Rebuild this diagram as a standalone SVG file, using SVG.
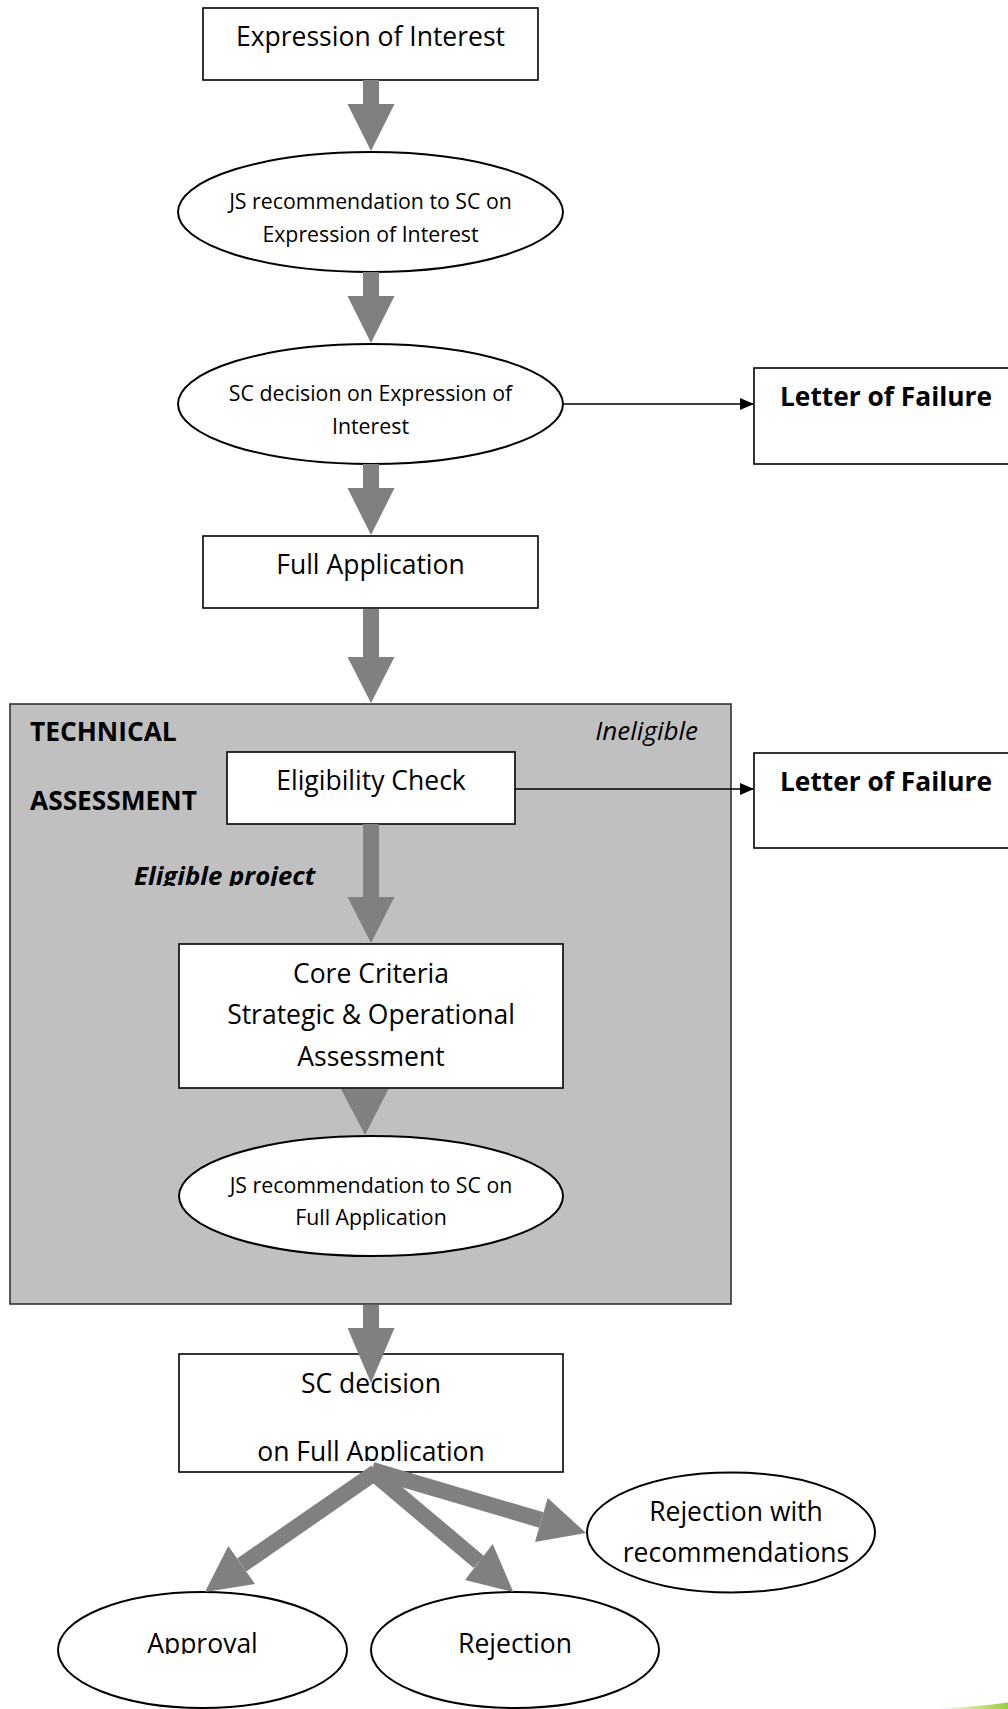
<svg xmlns="http://www.w3.org/2000/svg" width="1008" height="1709" viewBox="0 0 1008 1709">
<style>
  .box{fill:#fff;stroke:#000;stroke-width:1.6}
  .ell{fill:#fff;stroke:#000;stroke-width:2}
  .t{font-family:"Open Sans","Noto Sans","DejaVu Sans",sans-serif;fill:#000;text-anchor:middle}
  .big{font-size:26.5px}
  .sm{font-size:21.3px}
  .b{font-weight:bold;font-size:26.3px}
  .arr{fill:#808080;stroke:none}
  .fan{stroke:#808080;stroke-width:16;fill:none}
  .thin{stroke:#000;stroke-width:1.6;fill:none}
</style>
<defs>
  <marker id="ah" markerWidth="14" markerHeight="12" refX="13" refY="6" orient="auto" markerUnits="userSpaceOnUse">
    <path d="M0,0 L14,6 L0,12 Z" fill="#000"/>
  </marker>
  <clipPath id="clipSC"><rect x="170" y="1350" width="400" height="111"/></clipPath>
  <clipPath id="clipAp"><rect x="50" y="1590" width="310" height="64"/></clipPath>
  <clipPath id="clipEl"><rect x="100" y="850" width="260" height="36"/></clipPath>
  <linearGradient id="grn" x1="0" y1="0" x2="1" y2="0">
    <stop offset="0" stop-color="#ffffff"/>
    <stop offset="1" stop-color="#9ccc3c"/>
  </linearGradient>
</defs>

<g id="technical-assessment">
  <rect x="10" y="704" width="721" height="600" fill="#c0c0c0" stroke="#333" stroke-width="1.6"/>
  <text class="t b" x="30" y="741" style="text-anchor:start">TECHNICAL</text>
  <text class="t b" x="30" y="810" style="text-anchor:start">ASSESSMENT</text>
  <text class="t" x="698" y="740" style="text-anchor:end;font-size:26px;font-style:italic">Ineligible</text>
  <text class="t" x="134" y="885" clip-path="url(#clipEl)" style="text-anchor:start;font-size:25.8px;font-style:italic;font-weight:bold">Eligible project</text>
</g>

<g id="expression-of-interest">
  <rect class="box" x="203" y="8" width="335" height="72"/>
  <text class="t big" x="370.5" y="46">Expression of Interest</text>
</g>

<g id="js-rec-eoi">
  <ellipse class="ell" cx="370.5" cy="212" rx="192.5" ry="60"/>
  <text class="t sm" x="370.5" y="209">JS recommendation to SC on</text>
  <text class="t sm" x="370.5" y="242">Expression of Interest</text>
</g>

<g id="sc-decision-eoi">
  <ellipse class="ell" cx="370.5" cy="404" rx="192.5" ry="60"/>
  <text class="t sm" x="370.5" y="401">SC decision on Expression of</text>
  <text class="t sm" x="370.5" y="434">Interest</text>
</g>

<g id="letter-of-failure-1">
  <rect class="box" x="754" y="368" width="300" height="96"/>
  <text class="t b" x="780" y="406" style="text-anchor:start">Letter of Failure</text>
</g>

<g id="full-application">
  <rect class="box" x="203" y="536" width="335" height="72"/>
  <text class="t big" x="370.5" y="574">Full Application</text>
</g>

<g id="eligibility-check">
  <rect class="box" x="227" y="752" width="288" height="72"/>
  <text class="t big" x="371" y="790">Eligibility Check</text>
</g>

<g id="letter-of-failure-2">
  <rect class="box" x="754" y="753" width="300" height="95"/>
  <text class="t b" x="780" y="791" style="text-anchor:start">Letter of Failure</text>
</g>

<g id="core-criteria">
  <rect class="box" x="179" y="944" width="384" height="144"/>
  <text class="t big" x="371" y="983">Core Criteria</text>
  <text class="t big" x="371" y="1024">Strategic &amp; Operational</text>
  <text class="t big" x="371" y="1066">Assessment</text>
</g>

<g id="js-rec-fa">
  <ellipse class="ell" cx="371" cy="1196" rx="192" ry="60"/>
  <text class="t sm" x="371" y="1193">JS recommendation to SC on</text>
  <text class="t sm" x="371" y="1225">Full Application</text>
</g>

<g id="sc-decision-fa">
  <rect class="box" x="179" y="1354" width="384" height="118"/>
  <text class="t big" x="371" y="1393">SC decision</text>
  <text class="t big" x="371" y="1461" clip-path="url(#clipSC)">on Full Application</text>
</g>

<g id="rejection-with-recommendations">
  <ellipse class="ell" cx="731" cy="1532.5" rx="144" ry="60"/>
  <text class="t big" x="736" y="1521">Rejection with</text>
  <text class="t big" x="736" y="1562">recommendations</text>
</g>

<g id="approval">
  <ellipse class="ell" cx="202.5" cy="1650" rx="144.5" ry="58"/>
  <text class="t big" x="202.5" y="1653" clip-path="url(#clipAp)">Approval</text>
</g>

<g id="rejection">
  <ellipse class="ell" cx="515" cy="1650" rx="144" ry="58"/>
  <text class="t big" x="515" y="1653">Rejection</text>
</g>

<g id="connectors">
  <path class="arr" d="M363,80 H379 V104 H394.5 L371,151 L347.5,104 H363 Z"/>
  <path class="arr" d="M363,272 H379 V296 H394.5 L371,343 L347.5,296 H363 Z"/>
  <path class="arr" d="M363,464 H379 V488 H394.5 L371,535 L347.5,488 H363 Z"/>
  <path class="arr" d="M363,609 H379 V657 H394.5 L371,703 L347.5,657 H363 Z"/>
  <path class="arr" d="M363,824 H379 V897 H394.5 L371,943 L347.5,897 H363 Z"/>
  <path class="arr" d="M341,1089 H388.5 L365,1135 Z"/>
  <path class="arr" d="M363,1305 H379 V1328 H394.5 L371,1383 L347.5,1328 H363 Z"/>
  <line class="fan" x1="376" y1="1472" x2="241.7" y2="1565"/>
  <path class="arr" d="M228.3,1546 L255,1584 L205,1592 Z"/>
  <line class="fan" x1="372" y1="1472" x2="478.8" y2="1562"/>
  <path class="arr" d="M492.7,1544 L465,1580 L513.3,1592 Z"/>
  <line class="fan" x1="372" y1="1470" x2="541.3" y2="1520"/>
  <path class="arr" d="M547.7,1498 L535,1542 L586,1533 Z"/>
  <line class="thin" x1="563" y1="404" x2="753" y2="404" marker-end="url(#ah)"/>
  <line class="thin" x1="515" y1="789" x2="753" y2="789" marker-end="url(#ah)"/>
</g>

<path d="M935,1708.5 Q975,1707 1008,1702.5 L1008,1709 L935,1709 Z" fill="url(#grn)"/>
</svg>
